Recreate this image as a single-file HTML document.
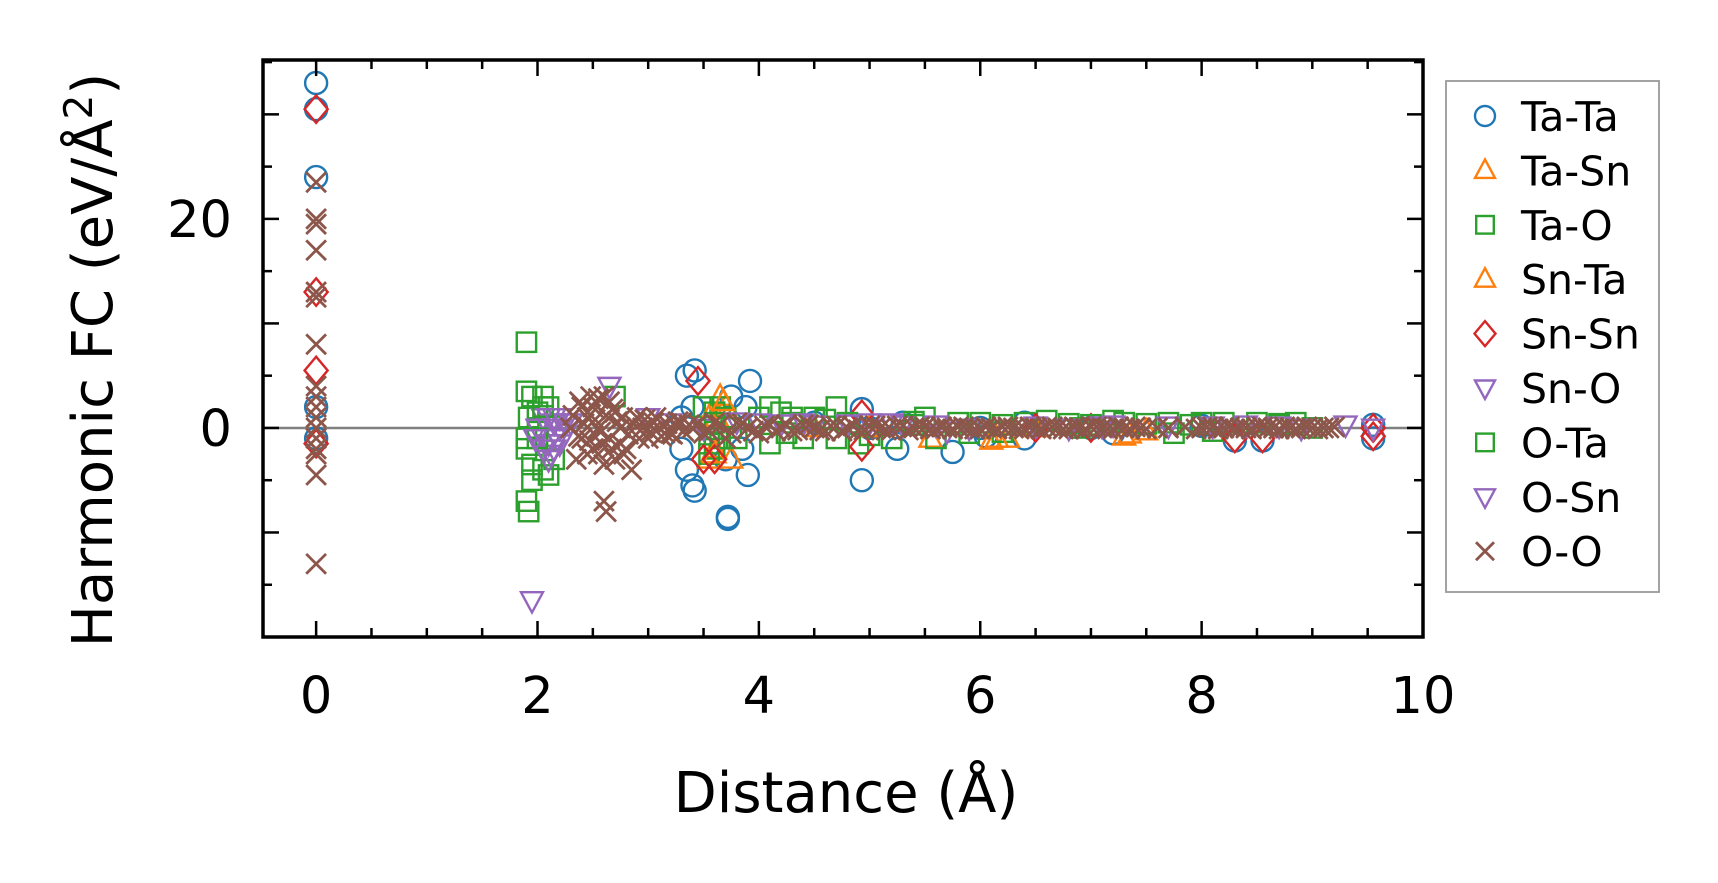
<!DOCTYPE html>
<html><head><meta charset="utf-8">
<style>
html,body{margin:0;padding:0;background:#fff;}
svg{display:block;font-family:"DejaVu Sans","Liberation Sans",sans-serif;}
</style></head>
<body>
<svg id="chart" width="1718" height="883" viewBox="0 0 1718 883" xmlns="http://www.w3.org/2000/svg">
<g id="marks"></g>
<g id="axes"></g>
<g id="legend"></g>
</svg>
<script>
const xTicks = [0, 2, 4, 6, 8, 10];
const yTicks = [0, 20];
const seriesNames = ["Ta-Ta","Ta-Sn","Ta-O","Sn-Ta","Sn-Sn","Sn-O","O-Ta","O-Sn","O-O"];
const taTa = [[0,33],[0,30.5],[0,24],[0,2],[0,-1],[3.35,5],[3.42,5.5],[3.35,-4],[3.4,-5.5],[3.42,-6],[3.4,2],[3.3,1],[3.3,-2],[3.72,-8.5],[3.72,-8.7],[3.75,3],[3.92,4.5],[3.9,-4.5],[3.88,2],[3.85,-2],[3.7,-3],[4.93,1.8],[4.93,-5],[5.25,-2],[5.3,0.5],[5.75,-2.3],[6.4,-1],[6.4,0.5],[7.2,-0.5],[8.3,-1.2],[8.55,-1.2],[9.55,-1],[9.55,0.3],[6.05,-0.8],[4.5,0.5],[5.0,0],[6.0,0],[7.0,0],[8.0,0.2]];
const taSn = [[3.55,-3],[3.6,-2],[3.65,3],[3.7,2],[3.75,-3],[3.62,1],[5.55,-1],[6.1,-1.2],[6.25,-1],[7.3,-0.8],[4.5,0],[5.0,0],[6.5,0],[7.5,-0.3]];
const taO = [[1.9,8.2],[1.9,3.5],[1.95,3],[1.9,-7],[1.92,-8],[1.9,-2],[1.95,-3.5],[2.0,0],[2.05,-4],[2.1,-4.5],[2.15,-3],[2.0,1.5],[2.1,2],[2.7,3],[3.5,2],[3.55,-1.5],[3.6,-2],[3.65,2],[3.7,1],[4.1,2],[4.2,1.5],[4.3,1],[4.4,-1],[4.5,1],[4.7,2],[4.7,-1],[4.9,-1.5],[5.2,-1],[5.5,1],[5.6,-1],[5.8,0.5],[5.9,-0.5],[6.0,0.5],[6.4,0.5],[6.6,0.7],[6.9,0],[7.2,0.7],[7.3,0.5],[7.7,0.5],[7.75,-0.5],[8.0,0.5],[8.2,0.5],[8.5,0.5],[8.85,0.5],[9.0,0],[4.1,-1.5],[3.75,0],[3.8,-1],[1.9,-1],[1.92,1],[1.95,-5],[2.05,3],[3.55,-2.5],[3.6,1.5],[3.65,-1],[4.0,1],[4.25,-0.5],[4.6,0.8],[5.0,-0.7],[5.4,0.6],[6.2,-0.4],[6.8,0.4],[7.5,0.4],[8.1,-0.3],[8.7,0.4]];
const snTa = [[3.6,-2.5],[3.68,2.5],[3.55,1],[6.15,-1],[7.35,-0.6]];
const snSn = [[0,30.5],[0,13],[0,5.5],[0,-1.5],[3.45,4.5],[3.5,-3],[3.6,-3],[4.93,1.3],[4.93,-1.8],[8.3,-1],[8.55,-1],[9.55,0],[9.55,-0.8],[6.5,0],[7.0,0]];
const snO = [[1.95,-16.5],[2.0,0],[2.1,1],[2.15,-2],[2.2,0],[2.25,0.5],[2.65,4],[3.0,1],[3.5,0],[4.0,0.5],[4.5,0.3],[5.0,0.5],[5.3,0.3],[5.7,-0.3],[5.9,0],[6.8,0],[7.2,0.3],[7.7,0.2],[8.4,0.3],[8.9,0],[9.3,0.3],[9.55,0],[2.2,-1.5],[2.1,-3],[2.0,-1],[2.05,-2],[2.1,-1.5],[2.15,0.5],[2.2,1],[2.05,1],[2.12,-2.5],[2.18,-1]];
const oTa = [[2.0,-1],[2.05,2],[3.6,0.5],[4.3,0.5],[4.8,0.5],[5.4,0.3],[6.2,0.3],[7.0,0.3],[7.9,0.3],[8.7,0.3]];
const oSn = [[1.98,-1],[2.05,-2],[2.15,1],[2.3,0.5],[3.2,0.5],[4.2,0.4],[4.8,0.4],[5.6,0.3],[6.5,0.2],[7.1,0.2],[8.1,0.2],[8.7,0.2],[3.8,0.6],[4.4,0.5],[5.2,0.5]];
const oO = [[0,23.5],[0,20],[0,19.5],[0,17],[0,13],[0,12.5],[0,8],[0,4],[0,3],[0,1],[0,-1],[0,-2.5],[0,-4.5],[0,-13],[0,2],[0,0],[0,-2],
[2.3,0],[2.35,-3],[2.4,-1],[2.4,2],[2.45,1],[2.5,-2],[2.5,2],[2.55,0],[2.55,-2.5],[2.6,-7],[2.62,-8],[2.6,3],[2.65,-1],[2.65,2.5],[2.7,1.5],[2.7,-3],[2.75,0],[2.75,-1.5],[2.8,-2],[2.85,-4],[2.9,1],[2.95,0],[3.0,-1],[3.05,0.5],[3.1,0],[3.15,-0.5],[3.2,-0.5],[3.25,0.3],[3.3,0.5],[3.4,0],[3.5,-0.5],[3.6,0.5],[3.7,-1],[3.8,0.5],[3.9,0],[4.0,-0.5],[4.1,0.3],[4.2,0],[4.3,-0.3],[4.4,0.3],[4.5,0],[4.6,-0.3],[4.7,0.2],[4.8,0],[4.9,-0.2],[5.0,0.2],[5.1,0],[5.2,-0.2],[5.3,0.2],[5.4,0],[5.5,0.1],[5.6,-0.1],[5.7,0],[5.8,0.1],[5.9,0],[6.0,-0.1],[6.1,0],[6.2,0.1],[6.3,0],[6.4,-0.1],[6.5,0],[6.6,0.1],[6.7,0],[6.8,-0.1],[6.9,0],[7.0,0.1],[7.1,0],[7.2,-0.1],[7.3,0],[7.4,0.1],[7.5,-0.1],[7.6,0],[8.0,0],[8.1,0.1],[8.2,0],[8.3,-0.1],[8.4,0],[8.5,0.1],[8.6,0],[8.7,-0.1],[8.8,0],[8.9,0],[9.0,0],[9.1,0],[9.2,0.1],
[2.32,1.2],[2.37,-0.8],[2.42,0.4],[2.47,-1.2],[2.52,0.8],[2.57,-0.4],[2.62,1.2],[2.67,-2],[2.72,0.6],[2.77,1],[2.82,-0.6],[2.87,0.4],[2.92,-1],[2.97,0.8],[3.02,-0.4],[3.07,1],[3.12,-0.8],[3.17,0.4],[3.22,-0.6],[3.27,0.6],[3.32,-0.3],[3.37,0.3],[2.45,-2.5],[2.55,2.8],[2.6,-3.5],[2.68,1.8],[2.78,-2.5],[2.38,2.5],[2.48,3],[2.58,-1.5],
[3.45,0.4],[3.55,-0.3],[3.65,0.3],[3.75,-0.5],[3.85,0.4],[3.95,-0.3],[4.05,0.2],[4.15,-0.3],[4.25,0.3],[4.35,-0.2],[4.45,0.3],[4.55,-0.2],[4.65,0.2],[4.75,-0.3],[4.85,0.2],[4.95,-0.2],[5.05,0.2],[5.15,-0.2],[5.25,0.2],[5.35,-0.2],[5.45,0.1],[5.55,-0.1],[5.65,0.1],[5.75,-0.1],[5.85,0.1],[5.95,-0.1],[6.05,0.1],[6.15,-0.1],[6.25,0.1],[6.35,-0.1],[6.45,0.1],[6.55,-0.1],[6.65,0.1],[6.75,-0.1],[6.85,0.1],[6.95,-0.1],[7.05,0.1],[7.15,-0.1],[7.25,0.1],[7.35,-0.1],[7.45,0],[7.7,0],[7.85,0.1],[7.95,-0.1],[8.05,0.1],[8.15,-0.1],[8.25,0.1],[8.35,0],[8.45,-0.1],[8.55,0.1],[8.65,0],[8.75,0.1],[8.85,-0.1],[8.95,0.1],[9.05,-0.1],[9.15,0]];

const L=263, R=1423, T=60, B=637;
const X0=-0.48, X1=10.0, Y0=-20, Y1=35.2;
function sx(v){return L+(v-X0)/(X1-X0)*(R-L);}
function sy(v){return B-(v-Y0)/(Y1-Y0)*(B-T);}
const NS="http://www.w3.org/2000/svg";
function mk(tag,attrs,parent){const e=document.createElementNS(NS,tag);for(const k in attrs)e.setAttribute(k,attrs[k]);parent.appendChild(e);return e;}

const marks=document.getElementById('marks');
const axes=document.getElementById('axes');
const legend=document.getElementById('legend');

const zl=mk('line',{x1:L,x2:R,y1:sy(0),y2:sy(0),stroke:'#808080','stroke-width':2.5},marks);



function marker(type,color,cx,cy,parent,sz){
  const s=sz||10, w=2.4;
  let e;
  if(type==='o') e=mk('circle',{cx:cx,cy:cy,r:s,fill:'none',stroke:color,'stroke-width':w},parent);
  else if(type==='^') e=mk('polygon',{points:`${cx},${cy-s*1.1} ${cx-s},${cy+s*0.75} ${cx+s},${cy+s*0.75}`,fill:'none',stroke:color,'stroke-width':w},parent);
  else if(type==='v') e=mk('polygon',{points:`${cx},${cy+s*1.1} ${cx-s},${cy-s*0.75} ${cx+s},${cy-s*0.75}`,fill:'none',stroke:color,'stroke-width':w},parent);
  else if(type==='s') e=mk('rect',{x:cx-s*0.88,y:cy-s*0.88,width:s*1.76,height:s*1.76,fill:'none',stroke:color,'stroke-width':w},parent);
  else if(type==='D') e=mk('polygon',{points:`${cx},${cy-s*1.25} ${cx+s*1.05},${cy} ${cx},${cy+s*1.25} ${cx-s*1.05},${cy}`,fill:'none',stroke:color,'stroke-width':w},parent);
  else e=mk('path',{d:`M${cx-s*0.9},${cy-s*0.9}L${cx+s*0.9},${cy+s*0.9}M${cx-s*0.9},${cy+s*0.9}L${cx+s*0.9},${cy-s*0.9}`,fill:'none',stroke:color,'stroke-width':w+0.4},parent);
  return e;
}
const seriesData=[taTa,taSn,taO,snTa,snSn,snO,oTa,oSn,oO];
const types=['o','^','s','^','D','v','s','v','x'];
const colors=['#1f77b4','#ff7f0e','#2ca02c','#ff7f0e','#d62728','#9467bd','#2ca02c','#9467bd','#8c564b'];
seriesData.forEach((data,i)=>{
  const g=mk('g',{},marks);
  
  
  data.forEach(p=>{
    const m=marker(types[i],colors[i],sx(p[0]),sy(p[1]),g,11);
    
    
  });
});

const fr=mk('rect',{x:L,y:T,width:R-L,height:B-T,fill:'none',stroke:'#000','stroke-width':3.5},axes);


for(let v=0;v<=10.001;v+=0.5){
  const maj=Math.abs(v/2-Math.round(v/2))<1e-6, len=maj?16:9, x=sx(v);
  mk('line',{x1:x,x2:x,y1:B,y2:B-len,stroke:'#000','stroke-width':2.5},axes);
  mk('line',{x1:x,x2:x,y1:T,y2:T+len,stroke:'#000','stroke-width':2.5},axes);
}
xTicks.forEach(v=>{
  const t=mk('text',{x:sx(v),y:713,'text-anchor':'middle','font-size':51,fill:'#000'},axes);
  t.textContent=v;
  
  
});
for(let v=-20;v<=35;v+=5){
  const maj=(v%10===0), len=maj?16:9, y=sy(v);
  if(y<T+2||y>B-2) continue;
  mk('line',{x1:L,x2:L+len,y1:y,y2:y,stroke:'#000','stroke-width':2.5},axes);
  mk('line',{x1:R,x2:R-len,y1:y,y2:y,stroke:'#000','stroke-width':2.5},axes);
}
yTicks.forEach(v=>{
  const t=mk('text',{x:232,y:sy(v)+18,'text-anchor':'end','font-size':51,fill:'#000'},axes);
  t.textContent=v;
  
  
});
const xl=mk('text',{x:846,y:812,'text-anchor':'middle','font-size':56,fill:'#000'},axes);
xl.textContent='Distance (Å)';


const yl=mk('text',{x:0,y:0,'text-anchor':'middle','font-size':56,fill:'#000',transform:'translate(112,360) rotate(-90)'},axes);
yl.innerHTML='Harmonic FC (eV/Å<tspan dy="-20" font-size="39">2</tspan><tspan dy="20">)</tspan>';



const lb=mk('rect',{x:1446,y:81,width:213,height:511,fill:'#fff',stroke:'#999','stroke-width':1.8},legend);


seriesNames.forEach((n,i)=>{
  const y=116+i*54.4;
  const g=mk('g',{},legend);
  
  
  marker(types[i],colors[i],1485,y,g,10);
  const t=mk('text',{x:1521,y:y+15,'font-size':41,fill:'#000'},g);
  t.textContent=n;
});
</script>
</body></html>
